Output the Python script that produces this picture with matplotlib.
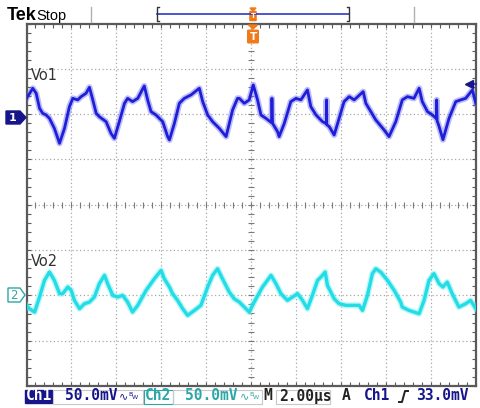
import numpy as np
import matplotlib
matplotlib.use("Agg")
import matplotlib.pyplot as plt
from matplotlib.patches import Polygon, Rectangle, FancyBboxPatch
from matplotlib.ticker import MultipleLocator
import matplotlib.transforms as mtransforms

# scope settings
time_per_div = 2.0        # us/div
ch1_scale = 50.0          # mV/div
ch2_scale = 50.0          # mV/div
ch1_offset = 2.0          # div
ch2_offset = -2.0         # div
trig_level = 33.0         # mV on Ch1

# Vo1 trace: time (us), voltage (mV)
t1 = [-10.0, -9.72, -9.57, -9.42, -9.28, -9.13, -8.98, -8.76, -8.53, -8.31,
      -8.09, -7.94, -7.72, -7.57, -7.35, -7.20, -7.05, -6.90, -6.76, -6.46,
      -6.24, -6.09, -5.87, -5.64, -5.50, -5.28, -5.05, -4.76, -4.61, -4.46,
      -4.24, -3.94, -3.72, -3.64, -3.42, -3.20, -2.98, -2.68, -2.31, -2.16,
      -1.94, -1.72, -1.42, -1.12, -0.83, -0.61, -0.53, -0.31, -0.09, 0.09,
      0.28, 0.43, 0.65, 0.90, 0.92, 0.95, 1.17, 1.24, 1.47, 1.76,
      1.99, 2.21, 2.50, 2.65, 2.88, 3.17, 3.34, 3.35, 3.36, 3.47,
      3.69, 3.91, 4.13, 4.36, 4.58, 4.98, 5.10, 5.32, 5.54, 5.91,
      6.13, 6.43, 6.72, 6.95, 7.24, 7.47, 7.61, 7.84, 8.06, 8.24,
      8.25, 8.27, 8.36, 8.53, 8.80, 9.10, 9.32, 9.54, 9.84, 9.99]
v1 = [17.4, 28.5, 23.0, 6.4, 0.9, -0.9, -4.6, -15.7, -32.2, -15.7,
      8.3, 17.4, 15.7, 19.3, 23.0, 29.6, 15.7, 0.9, -2.8, -8.3,
      -21.2, -26.7, -8.3, 11.9, 17.4, 13.8, 17.4, 31.1, 15.7, 2.8,
      -0.9, -8.3, -24.8, -28.5, -10.2, 11.9, 17.4, 21.2, 28.5, 13.8,
      -0.9, -8.3, -15.7, -24.8, 4.6, 17.4, 17.4, 11.9, 15.7, 32.2,
      15.7, -0.9, -4.6, -9.4, 17.4, -10.2, -19.3, -24.8, -10.2, 13.8,
      17.4, 15.7, 26.7, 8.3, -0.9, -8.3, -10.5, 15.7, -11.6, -13.8,
      -23.0, -4.6, 13.8, 19.3, 15.7, 24.8, 11.9, 2.8, -6.4, -17.4,
      -24.8, -8.3, 15.7, 19.3, 17.4, 28.5, 13.8, 2.8, -0.9, -5.0,
      15.7, -7.2, -13.8, -28.2, -4.6, 13.8, 15.7, 17.4, 26.7, 11.9]

# Vo2 trace: time (us), voltage (mV)
t2 = [-10.0, -9.87, -9.64, -9.42, -9.20, -8.98, -8.76, -8.53, -8.39, -8.16,
      -8.01, -7.87, -7.64, -7.42, -7.20, -6.98, -6.76, -6.53, -6.39, -6.16,
      -5.94, -5.72, -5.50, -5.28, -5.05, -4.68, -4.31, -4.01, -3.87, -3.64,
      -3.50, -3.28, -3.05, -2.83, -2.53, -2.24, -1.94, -1.72, -1.50, -1.28,
      -0.98, -0.76, -0.53, -0.31, -0.09, 0.13, 0.50, 0.88, 1.10, 1.32,
      1.61, 1.84, 2.06, 2.28, 2.50, 2.72, 2.95, 3.10, 3.29, 3.39,
      3.69, 3.91, 4.21, 4.58, 4.80, 4.95, 5.17, 5.39, 5.54, 5.76,
      6.06, 6.36, 6.65, 6.72, 7.02, 7.47, 7.69, 7.91, 8.13, 8.36,
      8.53, 8.72, 8.94, 9.24, 9.54, 9.76, 9.99]
v2 = [-11.0, -14.7, -18.4, -1.8, 16.6, 25.7, 16.6, 1.9, 1.9, 9.2,
      5.5, -5.5, -14.7, -9.2, -7.4, -1.8, 12.9, 22.1, 12.9, 0.0,
      -1.8, 0.0, -7.4, -18.4, -11.0, 5.5, 18.4, 27.6, 18.4, 9.2,
      1.9, -5.5, -14.7, -22.1, -16.6, -11.0, 9.2, 22.1, 29.4, 18.4,
      3.7, -3.7, -7.4, -12.9, -18.4, -7.4, 9.2, 22.1, 12.9, 1.9,
      -5.5, -1.8, 1.9, -5.5, -14.7, 0.0, 16.6, 20.2, 25.7, 11.0,
      -3.7, -9.2, -11.0, -11.0, -11.0, -16.6, 0.0, 24.0, 29.4, 25.7,
      16.6, 5.5, -7.4, -12.9, -16.6, -20.2, -5.5, 16.6, 24.0, 12.9,
      9.2, 14.7, 1.9, -12.9, -9.2, -5.5, -14.7]

ch1_label = "Vo1"
ch2_label = "Vo2"
ch1_scale_text = "50.0mV"
ch2_scale_text = "50.0mV"
time_text = "2.00\u00b5s"
trig_src_text = "Ch1"
trig_level_text = "33.0mV"

navy = "#16168a"
blue = "#1e1ed8"
cyan = "#22dde6"
teal = "#2fa6a6"
orange = "#f07a1a"
grid_col = "#a8a8a8"

fig = plt.figure(figsize=(4.8, 4.08), dpi=100)
fig.patch.set_facecolor("white")

# pixel-space overlay for the status bars and channel markers
ov = fig.add_axes([0, 0, 1, 1])
ov.set_xlim(0, 480)
ov.set_ylim(408, 0)
ov.axis("off")

# graticule
ax = fig.add_axes([26.5 / 480, 1 - 386 / 408, 449.5 / 480, 362.5 / 408])
ax.set_xlim(-5 * time_per_div, 5 * time_per_div)
ax.set_ylim(-4, 4)
ax.set_facecolor("white")
for s in ax.spines.values():
    s.set_color("#5a5a5a")
    s.set_linewidth(1.6)
ax.xaxis.set_major_locator(MultipleLocator(time_per_div))
ax.xaxis.set_minor_locator(MultipleLocator(time_per_div / 5))
ax.yaxis.set_major_locator(MultipleLocator(1))
ax.yaxis.set_minor_locator(MultipleLocator(0.2))
ax.tick_params(which="both", direction="in", top=True, right=True,
               labelbottom=False, labelleft=False, color="#5a5a5a",
               length=3, width=0.8)

for k in range(-4, 5):
    ax.axvline(k * time_per_div, color=grid_col, lw=0.9, ls=(0, (1, 2)), zorder=1)
for k in range(-3, 4):
    ax.axhline(k, color=grid_col, lw=0.9, ls=(0, (1, 2)), zorder=1)

# center crosshair with minor marks
xs = np.arange(-10, 10.01, time_per_div / 5)
ys = np.arange(-4, 4.01, 0.2)
ax.plot(xs, np.zeros_like(xs), ls="none", marker="|", ms=4, mew=0.8,
        color="#7a7a7a", zorder=1)
ax.plot(np.zeros_like(ys), ys, ls="none", marker="_", ms=4, mew=0.8,
        color="#7a7a7a", zorder=1)

# traces (halo + core for persistence look)
y1 = ch1_offset + np.array(v1) / ch1_scale
y2 = ch2_offset + np.array(v2) / ch2_scale
ax.plot(t1, y1, color="#6a6af2", lw=4.4, alpha=0.45, solid_joinstyle="round", zorder=3)
ax.plot(t1, y1, color=blue, lw=2.0, solid_joinstyle="round", zorder=4)
ax.plot(t2, y2, color="#7aeef2", lw=4.4, alpha=0.5, solid_joinstyle="round", zorder=3)
ax.plot(t2, y2, color=cyan, lw=2.4, solid_joinstyle="round", zorder=4)

ax.text(-9.8, 2.85, ch1_label, fontsize=10.5, color="#333333", va="center", ha="left")
ax.text(-9.8, -1.25, ch2_label, fontsize=10.5, color="#333333", va="center", ha="left")

# trigger level arrow on the right
lvl = ch1_offset + trig_level / ch1_scale
tr = mtransforms.blended_transform_factory(ax.transAxes, ax.transData)
ax.plot([0.985, 1.0], [lvl, lvl], color=blue, lw=1.2, transform=tr, clip_on=False, zorder=5)
ax.plot([0.985], [lvl], marker="<", ms=6, color=navy, transform=tr, clip_on=False, zorder=5)

# channel ground markers
g1 = 117.5
g2 = 295.0
ov.add_patch(Polygon([(6, g1 - 6.5), (20, g1 - 6.5), (26, g1), (20, g1 + 6.5), (6, g1 + 6.5)],
                     closed=True, facecolor=navy, edgecolor=navy))
ov.text(13, g1 + 0.5, "1", color="white", fontsize=8, fontweight="bold", ha="center", va="center")
ov.add_patch(Polygon([(8, g2 - 7), (20, g2 - 7), (25, g2), (20, g2 + 7), (8, g2 + 7)],
                     closed=True, facecolor="white", edgecolor=teal, lw=1.0))
ov.text(14, g2 + 0.5, "2", color=teal, fontsize=8.5, ha="center", va="center")

# top bar
ov.text(7, 20, "Tek", family="Liberation Sans", fontsize=13, fontweight="bold",
        color="black", va="baseline", ha="left")
ov.text(36, 20, "Stop", family="Liberation Sans", fontsize=10.5, color="black",
        va="baseline", ha="left")
for xsep in (91, 414):
    ov.plot([xsep, xsep], [7, 22], color="#b0b0b0", lw=1)
ov.plot([157, 349], [14, 14], color="#2a3ac8", lw=1.2)
ov.plot([159, 157, 157, 159], [7, 7, 21, 21], color="#333333", lw=1)
ov.plot([347, 349, 349, 347], [7, 7, 21, 21], color="#333333", lw=1)
ov.add_patch(Polygon([(250, 8), (256, 8), (253, 11)], closed=True, color=orange))
ov.add_patch(FancyBboxPatch((250.5, 12), 5, 8, boxstyle="round,pad=0.6", color=orange))
ov.text(253, 16.5, "T", fontsize=5, color="white", ha="center", va="center", fontweight="bold")
ov.add_patch(Polygon([(248.5, 25), (257.5, 25), (253, 29)], closed=True, color=orange, zorder=6))
ov.add_patch(FancyBboxPatch((248.5, 31), 9, 11, boxstyle="round,pad=0.8", color=orange, zorder=6))
ov.text(253, 36.8, "T", fontsize=7.5, color="white", ha="center", va="center",
        fontweight="bold", zorder=7)
ov.set_zorder(2)
ax.set_zorder(1)
ov.patch.set_alpha(0)

# bottom status bar
sy = 396
mono = dict(family="DejaVu Sans Mono", fontsize=10.5, fontweight="bold",
            va="center", ha="left")
ov.add_patch(Rectangle((25, 390), 27, 13, facecolor=navy, edgecolor=navy))
ov.text(26, sy, "Ch1", color="white", **mono)
ov.add_patch(Rectangle((53, 389.5), 90, 14, facecolor="none", edgecolor="#c8c8c8", lw=0.8))
ov.text(65, sy, ch1_scale_text, color=navy, **mono)
ov.text(119, sy + 0.5, "\u223f", color=navy, fontsize=8, va="center", ha="left")
ov.text(128, sy - 2, "B", color=navy, fontsize=4.5, va="center", ha="left")
ov.text(132, sy + 1.5, "W", color=navy, fontsize=4.5, va="center", ha="left")
ov.add_patch(Rectangle((143.5, 389.5), 29.5, 14, facecolor="white", edgecolor=teal, lw=0.8))
ov.text(145, sy, "Ch2", color=teal, **mono)
ov.add_patch(Rectangle((173, 389.5), 89, 14, facecolor="none", edgecolor="#c8c8c8", lw=0.8))
ov.text(185, sy, ch2_scale_text, color=teal, **mono)
ov.text(240, sy + 0.5, "\u223f", color=teal, fontsize=8, va="center", ha="left")
ov.text(249, sy - 2, "B", color=teal, fontsize=4.5, va="center", ha="left")
ov.text(253, sy + 1.5, "W", color=teal, fontsize=4.5, va="center", ha="left")
ov.text(263, sy, "M", color="#222222", **mono)
ov.add_patch(Rectangle((276, 389.5), 54, 14, facecolor="none", edgecolor="#c8c8c8", lw=0.8))
ov.text(279, sy, time_text, color="#222222", **mono)
ov.text(342, sy, "A", color="#222222", **mono)
ov.text(364, sy, trig_src_text, color=navy, **mono)
ov.plot([399, 402, 405, 408], [402, 402, 391, 391], color="#222222", lw=1.4)
ov.text(416, sy, trig_level_text, color=navy, **mono)

fig.savefig("out.png", dpi=100, facecolor="white")
